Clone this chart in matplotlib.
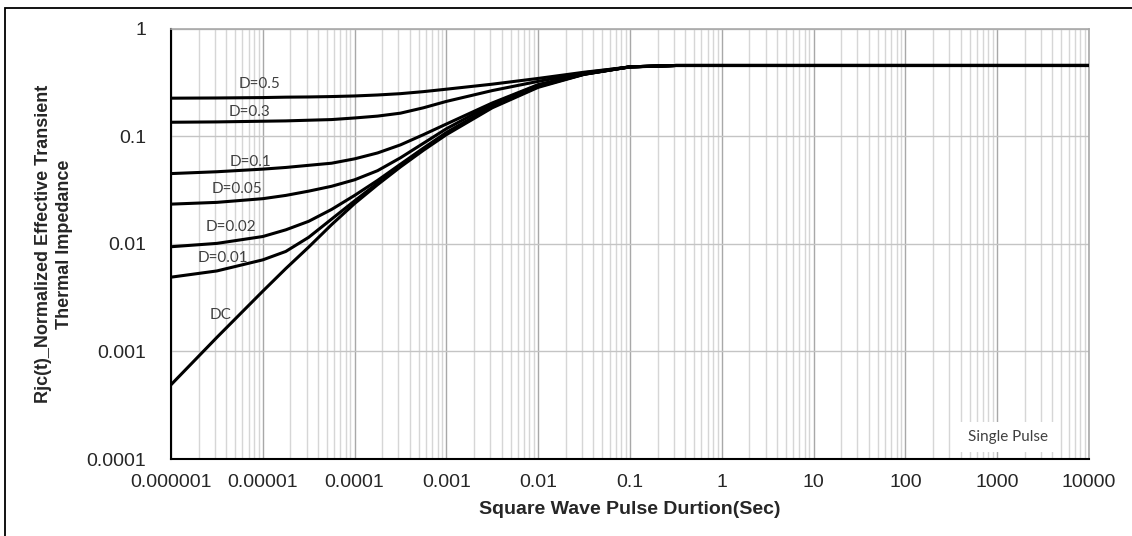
import numpy as np
import matplotlib
matplotlib.use("Agg")
import matplotlib.pyplot as plt
from matplotlib.patches import Rectangle
from matplotlib.ticker import LogLocator, FixedLocator, NullFormatter

# pulse duration (s) and normalized Rjc(t)
t_pts = [1e-6, 3.16e-6, 1e-5, 1.78e-5, 3.16e-5, 5.62e-5, 1e-4, 1.78e-4, 3.16e-4,
         5.62e-4, 1e-3, 3.16e-3, 1e-2, 3.16e-2, 1e-1, 3.16e-1, 1e4]

d05 = [0.226, 0.227, 0.229, 0.231, 0.232, 0.234, 0.237, 0.242, 0.249,
       0.260, 0.274, 0.305, 0.345, 0.394, 0.440, 0.455, 0.455]
d03 = [0.135, 0.136, 0.138, 0.139, 0.141, 0.143, 0.148, 0.154, 0.164,
       0.184, 0.211, 0.266, 0.324, 0.389, 0.442, 0.455, 0.455]
d01 = [0.0450, 0.0468, 0.0495, 0.0513, 0.0537, 0.0562, 0.0617, 0.0700, 0.0832,
       0.1035, 0.130, 0.204, 0.302, 0.380, 0.442, 0.455, 0.455]
d005 = [0.0234, 0.0243, 0.0263, 0.0282, 0.0309, 0.0343, 0.0394, 0.0479, 0.0631,
        0.0861, 0.1175, 0.1995, 0.2985, 0.380, 0.442, 0.455, 0.455]
d002 = [0.0094, 0.0101, 0.0117, 0.0135, 0.0162, 0.0209, 0.0282, 0.0389, 0.0550,
        0.0776, 0.1084, 0.1905, 0.295, 0.378, 0.442, 0.455, 0.455]
d001 = [0.0049, 0.0056, 0.0071, 0.0085, 0.0115, 0.0170, 0.0251, 0.0367, 0.0531,
        0.0759, 0.106, 0.1875, 0.290, 0.377, 0.442, 0.455, 0.455]
dc = [0.00049, 0.00135, 0.00363, 0.00589, 0.00933, 0.0151, 0.0237, 0.0355, 0.0519,
      0.0741, 0.1035, 0.184, 0.285, 0.376, 0.442, 0.455, 0.455]

curves = [d05, d03, d01, d005, d002, d001, dc]
labels = ["D=0.5", "D=0.3", "D=0.1", "D=0.05", "D=0.02", "D=0.01", "DC"]
label_pos = [(9.3e-6, 0.306), (7.2e-6, 0.169), (7.3e-6, 0.058), (5.26e-6, 0.0322),
             (4.53e-6, 0.01445), (3.68e-6, 0.00735), (3.51e-6, 0.00218)]

xticks = [1e-6, 1e-5, 1e-4, 1e-3, 1e-2, 1e-1, 1, 10, 100, 1000, 10000]
xtick_labels = ["0.000001", "0.00001", "0.0001", "0.001", "0.01", "0.1",
                "1", "10", "100", "1000", "10000"]
yticks = [1e-4, 1e-3, 1e-2, 1e-1, 1]
ytick_labels = ["0.0001", "0.001", "0.01", "0.1", "1"]

W, H = 1132, 536
fig = plt.figure(figsize=(W/100, H/100), dpi=100)
ax = fig.add_axes([171/W, 1-459/H, (1089-171)/W, (459-28.7)/H])

ax.set_xscale("log")
ax.set_yscale("log")
ax.set_xlim(1e-6, 1e4)
ax.set_ylim(1e-4, 1)

# grid: vertical minor + major, horizontal major only
ax.xaxis.set_minor_locator(LogLocator(base=10, subs=np.arange(2, 10), numticks=100))
ax.xaxis.set_minor_formatter(NullFormatter())
ax.yaxis.set_minor_locator(FixedLocator([]))
ax.grid(True, which="minor", axis="x", color="#d6d6d6", lw=1.0)
ax.grid(True, which="major", axis="x", color="#a8a8a8", lw=1.0)
ax.grid(True, which="major", axis="y", color="#c4c4c4", lw=1.0)
ax.set_axisbelow(True)

for y in curves:
    ax.plot(t_pts, y, color="black", lw=2.2, zorder=3)

for (lx, ly), lab in zip(label_pos, labels):
    ax.text(lx, ly, lab, fontsize=11, family="Lato", color="#404040",
            ha="center", va="center", zorder=4)

ax.text(1312, 0.00016, "Single Pulse", fontsize=11, family="Lato",
        color="#404040", ha="center", va="center", zorder=4,
        bbox=dict(facecolor="white", edgecolor="none", pad=6))

ax.set_xticks(xticks)
ax.set_xticklabels(xtick_labels)
ax.set_yticks(yticks)
ax.set_yticklabels(ytick_labels)
ax.tick_params(which="both", length=0)
ax.tick_params(axis="x", pad=11)
ax.tick_params(axis="y", pad=18)
for lab in ax.get_xticklabels() + ax.get_yticklabels():
    lab.set_family("Liberation Sans")
    lab.set_fontsize(14)
    lab.set_color("#262626")

ax.spines["left"].set_color("black")
ax.spines["bottom"].set_color("black")
ax.spines["left"].set_linewidth(1.5)
ax.spines["bottom"].set_linewidth(1.5)
ax.spines["top"].set_color("#a8a8a8")
ax.spines["right"].set_color("#a8a8a8")
ax.spines["top"].set_linewidth(1.2)
ax.spines["right"].set_linewidth(1.2)

fig.text(630/W, 1-510/H, "Square Wave Pulse Durtion(Sec)", family="Liberation Sans",
         fontsize=14, fontweight="bold", color="#262626", ha="center", va="center")
fig.text(54/W, 1-244/H, "Rjc(t)_Normalized Effective Transient\nThermal Impedance",
         family="Liberation Sans", fontsize=13, fontweight="bold", color="#262626",
         rotation=90, ha="center", va="center", multialignment="center",
         linespacing=1.3)

# outer chart frame (only top and left edges inside the image)
fig.patches.append(Rectangle((5/W, -0.1), 1.2, 1-8/H+0.1,
                             transform=fig.transFigure, fill=False,
                             edgecolor="black", lw=1.3))

fig.savefig("out.png", dpi=100)
